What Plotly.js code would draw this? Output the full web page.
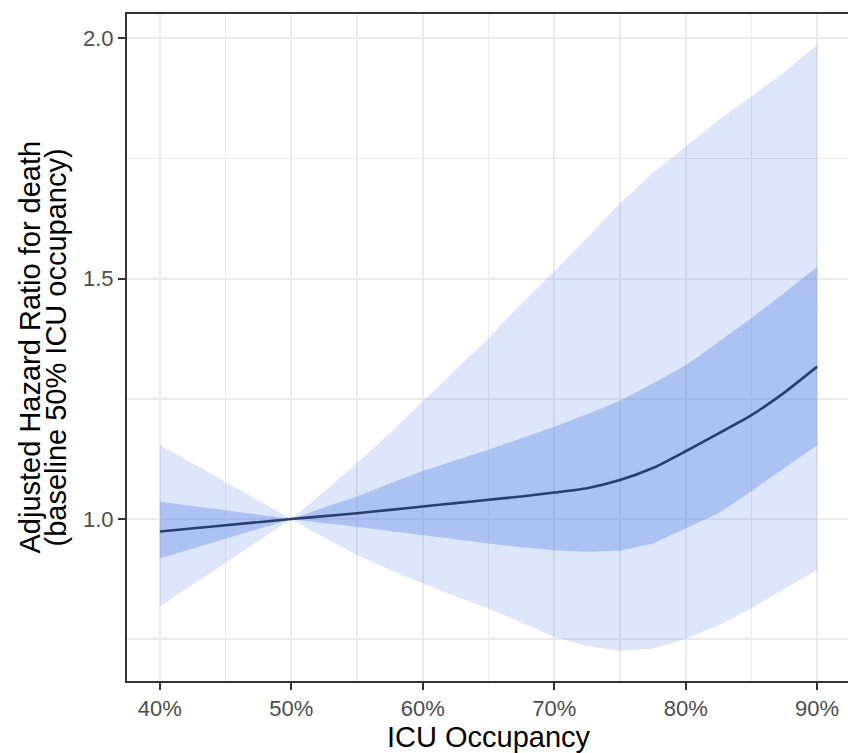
<!DOCTYPE html>
<html>
<head>
<meta charset="utf-8">
<script src="https://cdn.plot.ly/plotly-3.0.1.min.js"></script>
<style>
  html, body { margin: 0; padding: 0; overflow: hidden; background: #fff; }
  #chart { width: 850px; height: 753px; }
</style>
</head>
<body>
<div id="chart"></div>
<script>
// ICU occupancy (%)
const occupancy = [40, 45, 50, 52.5, 55, 57.5, 60, 62.5, 65, 67.5, 70, 72.5, 75, 77.5, 80, 82.5, 85, 87.5, 90];
// Adjusted hazard ratio (point estimate)
const hazardRatio = [0.974, 0.987, 1.0, 1.006, 1.012, 1.019, 1.026, 1.033, 1.040, 1.047, 1.055, 1.064, 1.081, 1.106, 1.141, 1.178, 1.216, 1.263, 1.317];
// Inner interval
const innerUpper = [1.036, 1.018, 1.0, 1.024, 1.047, 1.074, 1.100, 1.122, 1.144, 1.168, 1.192, 1.218, 1.246, 1.282, 1.320, 1.368, 1.418, 1.470, 1.525];
const innerLower = [0.918, 0.959, 1.0, 0.991, 0.984, 0.975, 0.967, 0.958, 0.949, 0.941, 0.935, 0.932, 0.934, 0.949, 0.980, 1.012, 1.058, 1.106, 1.154];
// Outer interval
const outerUpper = [1.154, 1.077, 1.0, 1.057, 1.116, 1.179, 1.244, 1.309, 1.376, 1.448, 1.515, 1.585, 1.657, 1.720, 1.775, 1.830, 1.879, 1.930, 1.986];
const outerLower = [0.818, 0.909, 1.0, 0.961, 0.925, 0.894, 0.866, 0.839, 0.814, 0.785, 0.755, 0.736, 0.726, 0.730, 0.751, 0.779, 0.814, 0.855, 0.894];

const xTickVals = [40, 50, 60, 70, 80, 90];
const xTickText = ['40%', '50%', '60%', '70%', '80%', '90%'];
const yTickVals = [1.0, 1.5, 2.0];
const yTickText = ['1.0', '1.5', '2.0'];

const xTitle = 'ICU Occupancy';
const yTitleLine1 = 'Adjusted Hazard Ratio for death';
const yTitleLine2 = '(baseline 50% ICU occupancy)';

const lightFill = 'rgba(100,140,230,0.22)';
const darkFill = 'rgba(100,140,230,0.40)';

const traces = [
  { x: occupancy, y: outerLower, type: 'scatter', mode: 'lines', line: { width: 0 }, fill: 'none', hoverinfo: 'skip' },
  { x: occupancy, y: outerUpper, type: 'scatter', mode: 'lines', line: { width: 0 }, fill: 'tonexty', fillcolor: lightFill, hoverinfo: 'skip' },
  { x: occupancy, y: innerLower, type: 'scatter', mode: 'lines', line: { width: 0 }, fill: 'none', hoverinfo: 'skip' },
  { x: occupancy, y: innerUpper, type: 'scatter', mode: 'lines', line: { width: 0 }, fill: 'tonexty', fillcolor: darkFill, hoverinfo: 'skip' },
  { x: occupancy, y: hazardRatio, type: 'scatter', mode: 'lines', line: { color: '#2b3f6e', width: 2.6, shape: 'spline', smoothing: 0.6 } }
];

const font = 'Liberation Sans, Arial, Helvetica, sans-serif';

const layout = {
  width: 850,
  height: 753,
  margin: { l: 127, r: 0, t: 14, b: 72 },
  paper_bgcolor: '#ffffff',
  plot_bgcolor: '#ffffff',
  showlegend: false,
  hovermode: false,
  font: { family: font, color: '#4d4d4d', size: 22 },
  xaxis: {
    range: [37.5, 92.5],
    tickvals: xTickVals,
    ticktext: xTickText,
    ticks: 'outside', ticklen: 7, tickwidth: 2, tickcolor: '#333333',
    tickfont: { family: font, size: 22, color: '#4d4d4d' },
    showgrid: true, gridcolor: '#ebebeb', gridwidth: 2,
    minor: { dtick: 5, tick0: 45, showgrid: true, gridcolor: '#ebebeb', gridwidth: 1.5, ticks: '' },
    showline: true, mirror: true, linecolor: '#333333', linewidth: 2,
    zeroline: false,
    title: { text: xTitle, font: { family: font, size: 29, color: '#000000' }, standoff: 6 }
  },
  yaxis: {
    range: [0.663, 2.0506],
    tickvals: yTickVals,
    ticktext: yTickText,
    ticks: 'outside', ticklen: 7, tickwidth: 2, tickcolor: '#333333',
    tickfont: { family: font, size: 22, color: '#4d4d4d' },
    showgrid: true, gridcolor: '#ebebeb', gridwidth: 2,
    minor: { dtick: 0.25, tick0: 0.75, showgrid: true, gridcolor: '#ebebeb', gridwidth: 1.5, ticks: '' },
    showline: true, mirror: true, linecolor: '#333333', linewidth: 2,
    zeroline: false
  },
  annotations: [
    { text: yTitleLine1, xref: 'paper', yref: 'paper', x: (29 - 127) / 723, y: 0.5, xanchor: 'center', yanchor: 'middle', textangle: -90, showarrow: false, font: { family: font, size: 29, color: '#000000' } },
    { text: yTitleLine2, xref: 'paper', yref: 'paper', x: (55 - 127) / 723, y: 0.5, xanchor: 'center', yanchor: 'middle', textangle: -90, showarrow: false, font: { family: font, size: 29, color: '#000000' } }
  ]
};

Plotly.newPlot('chart', traces, layout, { displayModeBar: false, staticPlot: true });
</script>
</body>
</html>
